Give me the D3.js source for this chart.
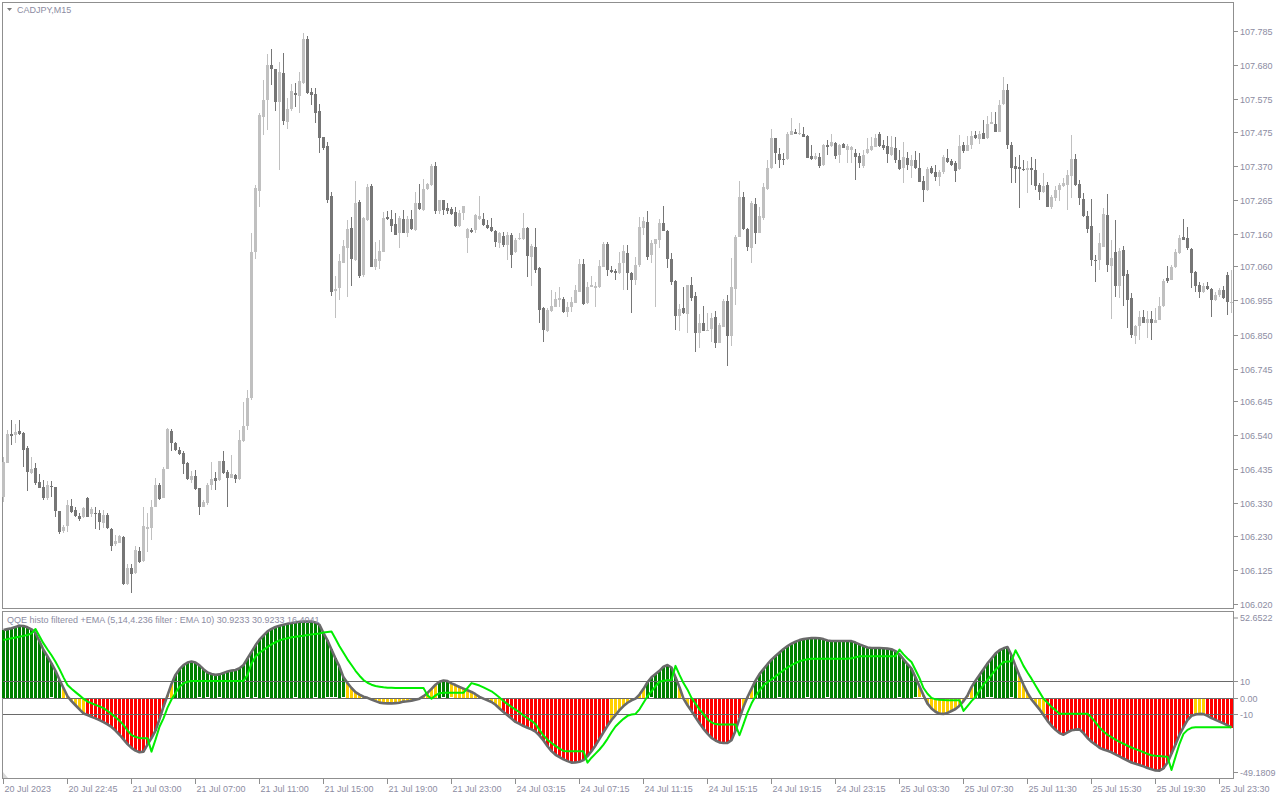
<!DOCTYPE html>
<html><head><meta charset="utf-8">
<script src="https://cdn.jsdelivr.net/npm/d3@7"></script>
<style>
html,body{margin:0;padding:0;background:#fff;}
svg{display:block;}
text{font-family:"Liberation Sans",Arial,sans-serif;}
</style>
</head><body>
<svg id="chart" width="1280" height="800"></svg>
<script>
// ---------------- DATA ----------------
const symbolTitle = "CADJPY,M15";
const indicatorTitle = "QQE histo filtered +EMA (5,14,4.236 filter : EMA 10) 30.9233 30.9233 16.4041";
const timeLabels = ["20 Jul 2023","20 Jul 22:45","21 Jul 03:00","21 Jul 07:00","21 Jul 11:00","21 Jul 15:00","21 Jul 19:00","21 Jul 23:00","24 Jul 03:15","24 Jul 07:15","24 Jul 11:15","24 Jul 15:15","24 Jul 19:15","24 Jul 23:15","25 Jul 03:30","25 Jul 07:30","25 Jul 11:30","25 Jul 15:30","25 Jul 19:30","25 Jul 23:30"];
const timeLabelEvery = 16;
const priceTicks = [107.785,107.680,107.575,107.475,107.370,107.265,107.160,107.060,106.955,106.850,106.745,106.645,106.540,106.435,106.330,106.230,106.125,106.020];
const indicatorMax = 52.6522;
const indicatorMin = -49.1809;
const indicatorLevels = [10, 0, -10];

const open = [106.350,106.455,106.545,106.541,106.553,106.547,106.501,106.424,106.439,106.397,106.381,106.347,106.383,106.380,106.306,106.245,106.260,106.322,106.309,106.291,106.289,106.348,106.297,106.302,106.299,106.270,106.294,106.251,106.204,106.209,106.226,106.083,106.130,106.116,106.183,106.152,106.252,106.255,106.320,106.386,106.348,106.437,106.554,106.515,106.496,106.486,106.455,106.402,106.414,106.378,106.320,106.332,106.388,106.408,106.402,106.460,106.427,106.409,106.417,106.406,106.522,106.568,106.655,107.105,107.293,107.520,107.572,107.679,107.667,107.567,107.656,107.505,107.546,107.593,107.584,107.625,107.760,107.597,107.590,107.538,107.459,107.430,107.276,106.985,106.992,107.071,107.118,107.178,107.079,107.259,107.033,107.203,107.308,107.059,107.077,107.105,107.213,107.205,107.190,107.162,107.205,107.164,107.205,107.172,107.256,107.233,107.297,107.310,107.370,107.230,107.264,107.241,107.236,107.228,107.184,107.225,107.148,107.173,107.171,107.205,107.205,107.186,107.182,107.168,107.131,107.153,107.125,107.156,107.103,107.143,107.144,107.178,107.088,107.120,107.056,106.933,106.861,106.922,106.936,106.956,106.959,106.920,106.934,106.948,106.982,107.067,106.946,106.997,106.994,106.995,107.059,107.129,107.049,107.047,107.038,107.069,107.100,107.041,107.018,107.064,107.177,107.198,107.095,107.129,107.141,107.192,107.170,107.083,107.015,106.907,106.931,106.912,107.003,106.969,106.854,106.887,106.862,106.866,106.905,106.825,106.874,106.953,106.846,106.990,107.151,107.274,107.175,107.115,107.252,107.164,107.208,107.297,107.362,107.456,107.406,107.392,107.390,107.465,107.474,107.467,107.467,107.461,107.400,107.390,107.396,107.372,107.433,107.430,107.439,107.402,107.436,107.418,107.418,107.410,107.400,107.369,107.408,107.418,107.428,107.469,107.433,107.430,107.402,107.425,107.387,107.362,107.394,107.369,107.387,107.364,107.323,107.296,107.362,107.350,107.334,107.350,107.393,107.383,107.378,107.359,107.434,107.416,107.434,107.463,107.453,107.472,107.455,107.499,107.499,107.475,107.560,107.603,107.434,107.370,107.365,107.360,107.357,107.363,107.357,107.311,107.288,107.311,107.242,107.272,107.296,107.306,107.309,107.339,107.391,107.314,107.267,107.216,107.183,107.080,107.080,107.121,107.219,107.060,107.103,107.000,107.111,107.037,106.962,106.846,106.875,106.904,106.885,106.898,106.887,106.896,106.937,107.024,107.019,107.057,107.101,107.150,107.147,107.114,107.044,107.003,106.980,107.000,106.990,106.955,106.972,106.988,107.034,106.950];
const high = [106.474,106.556,106.586,106.576,106.586,106.549,106.507,106.474,106.455,106.420,106.402,106.399,106.399,106.381,106.308,106.263,106.340,106.343,106.318,106.299,106.320,106.350,106.320,106.318,106.311,106.309,106.299,106.255,106.232,106.234,106.229,106.145,106.145,106.200,106.197,106.318,106.299,106.340,106.407,106.392,106.443,106.561,106.558,106.520,106.504,106.492,106.458,106.430,106.433,106.379,106.340,106.392,106.458,106.427,106.460,106.491,106.433,106.479,106.422,106.556,106.643,106.679,107.163,107.310,107.531,107.633,107.715,107.729,107.667,107.690,107.718,107.577,107.623,107.625,107.659,107.777,107.769,107.608,107.608,107.561,107.459,107.444,107.290,107.030,107.098,107.141,107.203,107.213,107.323,107.264,107.213,107.315,107.313,107.136,107.141,107.228,107.230,107.235,107.223,107.215,107.235,107.215,107.233,107.290,107.315,107.328,107.318,107.374,107.380,107.264,107.264,107.256,107.244,107.242,107.233,107.247,107.178,107.178,107.220,107.276,107.223,107.203,107.208,107.172,107.166,107.166,107.166,107.164,107.146,107.162,107.225,107.182,107.128,107.179,107.059,106.936,106.931,106.987,106.982,106.997,106.967,106.950,106.967,107.002,107.082,107.082,107.013,107.030,107.013,107.079,107.134,107.134,107.062,107.053,107.103,107.125,107.126,107.044,107.090,107.213,107.213,107.230,107.141,107.145,107.206,107.246,107.172,107.100,107.018,106.944,106.997,107.003,107.028,106.982,106.912,106.939,106.915,106.915,106.923,106.887,106.958,106.972,107.087,107.156,107.324,107.288,107.177,107.262,107.269,107.244,107.317,107.389,107.482,107.456,107.425,107.408,107.475,107.516,107.483,107.500,107.488,107.465,107.433,107.408,107.408,107.436,107.449,107.469,107.444,107.436,107.439,107.436,107.430,107.420,107.408,107.418,107.454,107.457,107.469,107.475,107.449,107.461,107.461,107.459,107.418,107.444,107.413,107.402,107.415,107.408,107.337,107.367,107.370,107.373,107.357,107.403,107.422,107.390,107.383,107.465,107.444,107.460,107.477,107.477,107.477,107.511,107.523,107.535,107.534,107.573,107.644,107.622,107.444,107.398,107.403,107.388,107.383,107.398,107.390,107.316,107.347,107.321,107.280,107.306,107.316,107.333,107.357,107.465,107.406,107.326,107.285,107.229,107.267,107.096,107.164,107.239,107.283,107.142,107.203,107.116,107.124,107.049,106.978,106.880,106.921,106.926,106.921,106.921,106.931,106.967,107.021,107.060,107.065,107.114,107.157,107.205,107.180,107.116,107.046,107.011,107.008,107.013,106.993,106.982,106.993,106.998,107.044,107.049];
const low = [106.335,106.453,106.510,106.515,106.540,106.443,106.369,106.422,106.386,106.376,106.342,106.342,106.350,106.289,106.235,106.240,106.243,106.302,106.289,106.277,106.284,106.287,106.289,106.250,106.248,106.253,106.250,106.184,106.200,106.207,106.079,106.079,106.053,106.114,106.147,106.150,106.181,106.217,106.318,106.340,106.346,106.435,106.491,106.491,106.479,106.420,106.402,106.392,106.371,106.294,106.318,106.325,106.371,106.371,106.400,106.422,106.320,106.407,106.392,106.402,106.520,106.556,106.648,107.084,107.243,107.464,107.479,107.618,107.539,107.356,107.495,107.484,107.539,107.551,107.531,107.623,107.592,107.556,107.500,107.408,107.418,107.254,106.968,106.900,106.956,107.069,106.967,106.999,107.077,107.025,107.028,107.200,107.057,107.049,107.053,107.103,107.203,107.166,107.156,107.117,107.162,107.149,107.172,107.170,107.233,107.231,107.295,107.308,107.220,107.220,107.218,107.220,107.219,107.182,107.182,107.203,107.102,107.163,107.162,107.203,107.184,107.176,107.166,107.120,107.118,107.120,107.079,107.056,107.100,107.141,107.141,107.028,106.999,107.038,106.886,106.828,106.859,106.920,106.934,106.936,106.915,106.905,106.920,106.946,106.980,106.942,106.944,106.995,106.936,106.993,107.057,107.030,107.041,107.018,107.036,106.987,106.987,106.915,107.003,107.059,107.157,107.080,107.069,106.936,107.115,107.168,107.055,107.003,106.864,106.862,106.913,106.854,106.952,106.795,106.808,106.860,106.860,106.828,106.808,106.823,106.872,106.754,106.816,106.941,107.149,107.173,107.108,107.071,107.129,107.162,107.203,107.295,107.360,107.375,107.364,107.372,107.387,107.463,107.467,107.465,107.457,107.393,107.388,107.388,107.362,107.370,107.402,107.428,107.392,107.377,107.423,107.377,107.377,107.326,107.364,107.364,107.406,107.416,107.426,107.428,107.418,107.377,107.400,107.377,107.358,107.318,107.357,107.331,107.360,107.319,107.257,107.291,107.345,107.324,107.306,107.345,107.378,107.370,107.321,107.357,107.410,107.414,107.421,107.453,107.437,107.451,107.453,107.497,107.473,107.473,107.558,107.422,107.316,107.316,107.239,107.355,107.287,107.311,107.296,107.265,107.286,107.242,107.236,107.260,107.260,107.304,107.234,107.270,107.307,107.249,107.213,107.163,107.060,107.013,107.049,107.119,107.044,106.898,106.967,106.962,106.937,106.870,106.839,106.821,106.832,106.885,106.839,106.832,106.885,106.894,106.935,107.008,107.017,107.055,107.099,107.140,107.111,106.993,106.982,106.962,106.978,106.988,106.904,106.953,106.967,106.960,106.911,106.916];
const close = [106.458,106.545,106.539,106.551,106.545,106.494,106.427,106.436,106.394,106.378,106.346,106.386,106.381,106.307,106.243,106.258,106.325,106.304,106.291,106.282,106.315,106.289,106.313,106.301,106.273,106.294,106.253,106.200,106.214,106.229,106.081,106.131,106.114,106.186,106.149,106.260,106.258,106.320,106.386,106.344,106.436,106.558,106.515,106.496,106.481,106.451,106.404,106.414,106.375,106.320,106.335,106.388,106.404,106.400,106.460,106.424,106.409,106.420,106.405,106.525,106.568,106.655,107.105,107.300,107.526,107.572,107.679,107.667,107.567,107.659,107.508,107.544,107.600,107.589,107.630,107.760,107.594,107.589,107.533,107.456,107.423,107.264,106.982,106.989,107.076,107.123,107.176,107.082,107.256,107.030,107.210,107.305,107.059,107.082,107.108,107.210,107.205,107.184,107.158,107.208,107.164,107.205,107.175,107.256,107.236,107.298,107.313,107.370,107.230,107.264,107.233,107.230,107.221,107.184,107.225,107.245,107.174,107.165,107.218,107.215,107.186,107.179,107.168,107.135,107.162,107.125,107.158,107.095,107.141,107.146,107.177,107.092,107.123,107.049,106.926,106.864,106.926,106.939,106.959,106.963,106.920,106.936,106.950,106.987,107.067,106.944,106.997,107.002,107.000,107.061,107.129,107.049,107.043,107.041,107.069,107.107,107.041,107.018,107.064,107.182,107.201,107.090,107.131,107.143,107.192,107.170,107.083,107.013,106.907,106.929,106.915,107.003,106.964,106.854,106.887,106.862,106.864,106.900,106.825,106.880,106.953,106.844,106.997,107.151,107.274,107.175,107.121,107.254,107.164,107.215,107.303,107.362,107.456,107.408,107.387,107.387,107.469,107.478,107.469,107.471,107.459,107.395,107.390,107.400,107.369,107.433,107.428,107.442,107.400,107.433,107.425,107.430,107.428,107.398,107.379,107.404,107.420,107.431,107.456,107.430,107.425,107.406,107.428,107.387,107.360,107.398,107.372,107.387,107.362,107.321,107.294,107.360,107.347,107.334,107.352,107.396,107.380,107.373,107.355,107.431,107.416,107.434,107.460,107.455,107.468,107.453,107.499,107.503,107.475,107.557,107.603,107.434,107.362,107.360,107.360,107.357,107.362,107.357,107.306,107.288,107.308,107.244,107.275,107.296,107.309,107.318,107.342,107.391,107.309,107.272,107.216,107.175,107.080,107.075,107.131,107.222,107.065,107.085,106.998,107.107,107.029,106.955,106.849,106.877,106.903,106.887,106.898,106.887,106.896,106.939,107.016,107.016,107.057,107.103,107.147,107.142,107.116,107.039,106.998,106.982,107.000,106.990,106.957,106.972,106.986,106.962,106.950,106.951];

const qqeHisto = [41.4,41.9,42.4,43.2,44.0,43.8,43.0,41.8,39.5,34.5,
29.2,25.2,21.0,16.5,11.0,6.0,1.0,-2.0,-4.5,-7.0,
-9.5,-10.5,-11.6,-12.5,-13.6,-14.8,-16.2,-17.8,-20.0,-22.5,
-25.3,-28.2,-30.5,-32.2,-33.2,-32.8,-28.5,-24.5,-20.0,-13.0,
-5.4,1.5,8.5,14.0,17.5,20.0,21.5,22.1,21.5,19.8,
17.5,15.5,14.5,14.0,14.3,15.2,16.0,16.6,17.0,18.0,
20.0,24.0,28.0,32.0,35.5,38.0,40.5,42.0,43.2,44.0,
44.6,45.2,45.6,46.0,46.4,46.5,46.5,46.5,46.0,44.5,
39.5,35.0,29.5,24.0,19.0,12.5,9.0,6.0,3.5,2.0,
0.7,0.0,-1.0,-2.0,-2.9,-3.3,-3.4,-3.4,-3.2,-3.0,
-2.3,-2.1,-1.7,-1.2,-0.5,1.0,3.0,5.5,8.0,9.8,
10.6,10.2,8.8,7.8,6.6,5.6,4.6,3.6,2.2,0.6,
-0.5,-1.5,-2.5,-4.2,-6.5,-8.6,-10.6,-12.6,-14.7,-15.9,
-17.2,-18.2,-19.2,-20.6,-23.0,-26.0,-29.5,-32.5,-34.7,-36.1,
-37.5,-38.6,-39.5,-39.4,-39.0,-38.0,-35.5,-32.5,-29.0,-25.0,
-21.0,-17.0,-13.5,-10.5,-7.5,-5.0,-3.0,-1.5,-0.5,2.0,
5.5,9.5,12.5,14.5,16.5,19.0,20.0,18.5,12.6,6.5,
-0.5,-4.5,-8.0,-11.8,-15.5,-18.9,-21.8,-24.4,-26.0,-27.2,
-27.5,-27.5,-25.8,-20.0,-12.5,-5.5,0.5,5.5,10.5,14.5,
17.5,20.5,23.3,25.5,27.7,29.8,31.5,33.0,34.2,35.2,
35.8,36.2,36.4,36.5,36.3,35.8,35.0,34.7,34.7,34.7,
34.7,34.7,34.6,33.7,32.6,31.6,30.7,30.4,30.4,30.4,
30.2,30.0,29.6,28.5,26.5,23.5,20.5,17.8,12.5,7.0,
1.5,-3.5,-6.5,-8.5,-9.7,-9.8,-9.2,-8.0,-6.8,-4.8,
-2.0,1.5,6.5,10.5,14.0,17.5,21.0,24.0,27.0,29.0,
30.2,31.0,25.9,19.5,13.5,8.0,3.0,-1.0,-4.0,-7.0,
-10.5,-14.0,-17.0,-19.5,-21.5,-22.5,-21.0,-19.8,-19.4,-19.2,
-21.5,-24.5,-26.8,-28.5,-30.5,-31.5,-32.3,-33.2,-34.5,-35.7,
-37.0,-38.2,-39.4,-40.2,-40.9,-41.8,-42.8,-43.6,-44.3,-44.4,
-43.0,-39.5,-34.0,-28.5,-22.5,-17.8,-13.5,-11.0,-10.1,-9.8,
-9.9,-11.0,-12.3,-13.4,-14.5,-15.6,-16.8,-18.0];

const qqeEma = [35.3,35.8,36.3,36.8,37.3,37.8,38.3,39.3,42.0,37.5,
33.2,29.5,26.0,22.0,17.5,12.5,7.8,5.5,3.5,1.5,
-0.5,-2.3,-3.3,-4.3,-5.2,-6.3,-8.0,-9.8,-11.8,-14.0,
-16.5,-19.8,-22.7,-23.8,-24.5,-24.7,-24.7,-32.8,-25.5,-17.6,
-12.5,-6.0,-1.0,3.0,6.8,8.8,9.8,10.3,10.3,10.3,
10.3,10.3,10.3,10.3,10.3,10.3,10.3,10.3,10.3,10.3,
10.3,14.0,21.0,25.0,27.5,29.2,31.0,32.6,33.9,35.0,
35.8,36.4,36.9,37.3,37.6,37.9,38.3,38.7,39.0,39.3,
39.8,40.1,40.4,36.0,31.5,27.5,23.5,20.0,16.5,13.5,
10.9,9.2,8.0,7.2,6.8,6.4,6.2,6.1,6.0,6.0,
6.0,6.0,6.0,6.0,6.0,6.0,1.5,-0.5,1.5,2.8,
3.1,3.1,3.1,3.1,3.1,3.1,6.0,9.0,8.3,7.5,
6.4,5.2,4.0,2.2,0.2,-2.0,-3.8,-5.5,-7.2,-8.8,
-10.8,-12.3,-14.0,-16.0,-19.5,-23.0,-25.5,-27.5,-29.3,-31.0,
-32.4,-32.6,-32.6,-32.6,-32.6,-32.6,-39.5,-36.5,-34.0,-31.5,
-28.5,-25.0,-21.0,-17.5,-15.0,-12.8,-11.0,-10.2,-9.8,-7.0,
-3.0,1.0,4.0,7.0,9.8,10.4,10.7,10.9,19.5,14.0,
9.0,5.0,0.0,-3.5,-7.0,-10.0,-13.0,-15.0,-16.0,-16.2,
-16.3,-16.3,-16.3,-16.3,-22.8,-16.0,-9.0,-3.5,1.0,4.5,
7.5,9.5,11.2,13.0,15.0,16.8,18.5,20.0,21.2,22.3,
23.0,23.5,23.9,23.9,23.9,23.9,23.9,23.9,23.9,23.9,
23.9,23.9,24.2,24.8,25.3,25.3,25.3,25.3,25.3,25.3,
25.3,25.3,25.3,25.3,29.4,26.5,24.0,21.9,17.0,12.0,
6.0,2.5,0.0,-0.9,-1.2,-1.3,-1.4,-1.5,-1.5,-1.5,
-8.0,-5.0,-2.0,0.5,4.5,8.0,11.0,14.0,17.0,19.5,
21.9,22.2,22.3,29.0,24.5,19.5,15.5,11.7,7.5,3.5,
-0.5,-3.0,-5.5,-7.5,-9.7,-9.7,-9.7,-9.7,-9.7,-9.7,
-9.7,-9.7,-12.0,-15.0,-18.0,-20.5,-22.5,-24.0,-25.5,-26.8,
-28.0,-29.2,-30.3,-31.3,-32.2,-33.2,-34.2,-35.0,-35.3,-35.5,
-35.7,-35.9,-44.0,-36.0,-28.0,-22.0,-19.5,-18.3,-18.0,-18.0,
-18.0,-18.0,-18.0,-18.0,-18.0,-18.0,-18.0,-18.0];

// histogram colour state, as runs of [state, number of bars]
const histoColorRuns = [["up",15],["flat",6],["down",20],["flat",2],["up",43],["flat",23],["up",3],["flat",13],["down",27],["flat",9],["up",8],["flat",3],["down",13],["flat",3],["up",41],["flat",14],["up",11],["flat",7],["down",37],["flat",3],["down",7]];

// ---------------- STYLE ----------------
const COL = {
  bull: "#c0c0c0", bear: "#767676", frame: "#8f8f8f", text: "#8c8ca2",
  up: "#008000", flat: "#ffd000", down: "#ff0000",
  histLine: "#6a6a6a", ema: "#00ee00", level: "#6a6a6a"
};

// ---------------- DRAW ----------------
const svg = d3.select("#chart");
const N = close.length;
const x = d3.scaleLinear().domain([0, N - 1]).range([3, 3 + 4 * (N - 1)]);
const yP = d3.scaleLinear().domain([106.020, 107.785]).range([604.1, 30.9]);
const yI = d3.scaleLinear().domain([indicatorMin, indicatorMax]).range([778.5, 611.5]);

const histoColors = [];
histoColorRuns.forEach(([s, n]) => { for (let k = 0; k < n; k++) histoColors.push(COL[s]); });

const idx = d3.range(N);

// frames
svg.append("rect").attr("x", 2.5).attr("y", 2.5).attr("width", 1231).attr("height", 606)
  .attr("fill", "none").attr("stroke", COL.frame);
svg.append("rect").attr("x", 2.5).attr("y", 611.5).attr("width", 1231).attr("height", 167)
  .attr("fill", "none").attr("stroke", COL.frame);

// ---- price panel ----
const main = svg.append("g");
main.selectAll("rect.wick").data(idx).join("rect")
  .attr("class", "wick")
  .attr("x", i => x(i)).attr("width", 1)
  .attr("y", i => Math.round(yP(high[i])))
  .attr("height", i => Math.max(1, Math.round(yP(low[i])) - Math.round(yP(high[i]))))
  .attr("fill", i => close[i] >= open[i] ? COL.bull : COL.bear);
main.selectAll("rect.body").data(idx).join("rect")
  .attr("class", "body")
  .attr("x", i => x(i) - 1).attr("width", 3)
  .attr("y", i => Math.round(yP(Math.max(open[i], close[i]))))
  .attr("height", i => Math.max(1, Math.round(yP(Math.min(open[i], close[i]))) - Math.round(yP(Math.max(open[i], close[i])))))
  .attr("fill", i => close[i] >= open[i] ? COL.bull : COL.bear);

// price axis
const pAxis = svg.append("g");
priceTicks.forEach(p => {
  const yy = Math.round(yP(p)) + 0.5;
  pAxis.append("line").attr("x1", 1234).attr("x2", 1238).attr("y1", yy).attr("y2", yy).attr("stroke", COL.frame);
  pAxis.append("text").attr("x", 1240).attr("y", yy).attr("dy", "0.35em")
    .attr("font-size", 9).attr("fill", COL.text).text(p.toFixed(3));
});

// title
svg.append("path").attr("d", "M7,8 L12,8 L9.5,11 Z").attr("fill", "#7a7a7a");
svg.append("text").attr("x", 17).attr("y", 10).attr("dy", "0.35em").attr("font-size", 9)
  .attr("fill", COL.text).text(symbolTitle);

// ---- indicator panel ----
const ind = svg.append("g");
ind.selectAll("rect.hb").data(idx).join("rect")
  .attr("class", "hb")
  .attr("x", i => x(i) - 1).attr("width", 3)
  .attr("y", i => Math.round(Math.min(yI(0), yI(qqeHisto[i]))))
  .attr("height", i => Math.max(0, Math.round(Math.abs(yI(qqeHisto[i]) - yI(0)))))
  .attr("fill", i => histoColors[i]);

indicatorLevels.forEach(l => {
  const yy = Math.round(yI(l)) + 0.5;
  ind.append("line").attr("x1", 3).attr("x2", 1233).attr("y1", yy).attr("y2", yy)
    .attr("stroke", COL.level).attr("stroke-width", 1);
});

ind.append("path").datum(idx)
  .attr("d", d3.line().x(i => x(i) + 0.5).y(i => yI(qqeHisto[i])))
  .attr("fill", "none").attr("stroke", COL.histLine).attr("stroke-width", 2.6).attr("stroke-linejoin", "round");
ind.append("path").datum(idx)
  .attr("d", d3.line().x(i => x(i) + 0.5).y(i => yI(qqeEma[i])))
  .attr("fill", "none").attr("stroke", COL.ema).attr("stroke-width", 2).attr("stroke-linejoin", "round");

svg.append("text").attr("x", 7).attr("y", 620).attr("dy", "0.35em").attr("font-size", 9)
  .attr("fill", COL.text).text(indicatorTitle);
svg.append("path").attr("d", "M3,778 L3,772 L8,778 Z").attr("fill", "#d8d8d8");

// indicator axis labels
const iAxis = svg.append("g");
const iLabels = [
  {v: indicatorMax, t: indicatorMax.toFixed(4), y: 618},
  {v: 10, t: "10"}, {v: 0, t: "0.00"}, {v: -10, t: "-10"},
  {v: indicatorMin, t: indicatorMin.toFixed(4), y: 772.5}
];
iLabels.forEach(d => {
  const yy = d.y !== undefined ? d.y : Math.round(yI(d.v)) + 0.5;
  iAxis.append("line").attr("x1", 1234).attr("x2", 1238).attr("y1", yy).attr("y2", yy).attr("stroke", COL.frame);
  iAxis.append("text").attr("x", 1240).attr("y", yy).attr("dy", "0.35em")
    .attr("font-size", 9).attr("fill", COL.text).text(d.t);
});

// time axis
const tAxis = svg.append("g");
timeLabels.forEach((t, k) => {
  const xx = x(k * timeLabelEvery) + 0.5;
  tAxis.append("line").attr("x1", xx).attr("x2", xx).attr("y1", 779).attr("y2", 784).attr("stroke", COL.frame);
  tAxis.append("text").attr("x", xx + 1).attr("y", 788.5).attr("dy", "0.35em")
    .attr("font-size", 9).attr("fill", COL.text).text(t);
});
</script>
</body></html>
